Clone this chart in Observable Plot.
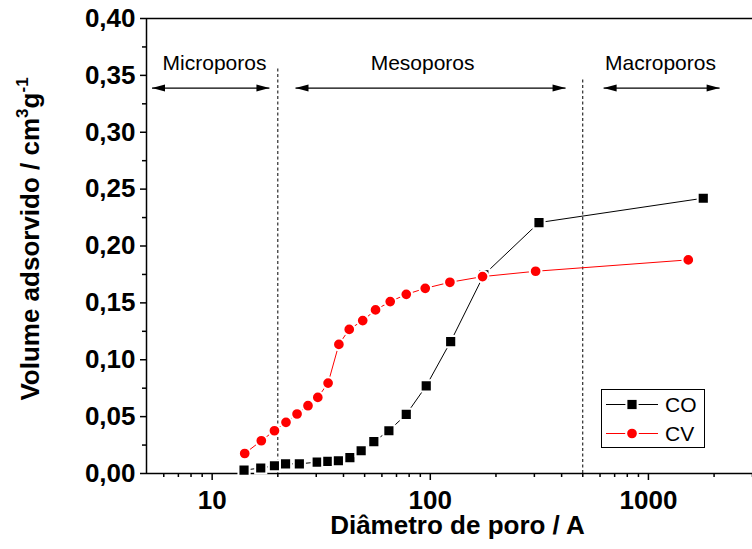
<!DOCTYPE html>
<html>
<head>
<meta charset="utf-8">
<script src="https://cdn.jsdelivr.net/npm/d3@7"></script>
<script src="https://cdn.jsdelivr.net/npm/@observablehq/plot@0.6"></script>
<style>
  body { margin: 0; background: #fff; }
  #wrap { position: relative; width: 752px; height: 549px; font-family: "Liberation Sans", Arial, sans-serif; }
  #legend { position: absolute; left: 601px; top: 389px; width: 102px; height: 57px; border: 1px solid #000; background: #fff; }
</style>
</head>
<body>
<div id="wrap"></div>
<script>
// ---- data ----
const seriesNames = ["CO", "CV"];
const seriesColors = ["#000000", "#ff0000"];

const coX = [14.0, 16.7, 19.3, 21.7, 25.1, 30.3, 33.9, 37.9, 42.8, 48.2, 55.1, 64.6, 77.6, 95.8, 124, 176, 315, 1784];
const coY = [0.003, 0.0048, 0.0068, 0.0085, 0.0085, 0.010, 0.0106, 0.0112, 0.014, 0.020, 0.028, 0.0376, 0.052, 0.077, 0.116, 0.1746, 0.2206, 0.242];

const cvX = [14.1, 16.8, 19.3, 21.8, 24.5, 27.5, 30.5, 34.0, 38.1, 42.5, 49.0, 56.1, 65.5, 77.6, 94.8, 123, 173.6, 304, 1523];
const cvY = [0.0176, 0.0288, 0.0376, 0.0450, 0.0523, 0.0596, 0.0669, 0.0795, 0.1135, 0.1267, 0.1344, 0.1438, 0.1511, 0.1575, 0.1628, 0.1681, 0.1731, 0.1778, 0.1878];

const yTicks = [0, 0.05, 0.10, 0.15, 0.20, 0.25, 0.30, 0.35, 0.40];
const yMinorTicks = [0.025, 0.075, 0.125, 0.175, 0.225, 0.275, 0.325, 0.375];
const xTicks = [10, 100, 1000];
const xMinorTicks = [6, 7, 8, 9, 20, 30, 40, 50, 60, 70, 80, 90, 200, 300, 400, 500, 600, 700, 800, 900, 2000, 3000];

// region annotations
const regionNames = ["Microporos", "Mesoporos", "Macroporos"];
const regionLabelX = [10.25, 92.2, 1136];
const regionFrom = [5.3, 24.1, 623];
const regionTo = [18.3, 417, 2120];
const regionLabelY = 0.361;
const regionArrowY = 0.3388;
const boundaryX = [20, 500];
const boundaryTop = [0.357, 0.348];

const xTitle = "Diâmetro de poro / A";
const yTitle = "Volume adsorvido / cm3g-1";

// ---- build ----
const co = coX.map((x, i) => ({x, y: coY[i]}));
const cv = cvX.map((x, i) => ({x, y: cvY[i]}));
const regions = regionNames.map((name, i) => ({name, lx: regionLabelX[i], from: regionFrom[i], to: regionTo[i]}));
const bounds = boundaryX.map((x, i) => ({x, top: boundaryTop[i]}));

const arrowShape = {
  draw(context, l, r) {
    context.moveTo(0, -l);
    context.lineTo(-r, 0);
    context.lineTo(r, 0);
    context.closePath();
  }
};

const fmt = d => d.toFixed(2).replace(".", ",");

const chart = Plot.plot({
  width: 752,
  height: 549,
  marginLeft: 146,
  marginRight: 0,
  marginTop: 18,
  marginBottom: 76,
  style: {fontFamily: "Liberation Sans, Arial, sans-serif", background: "#fff", color: "#000"},
  x: {type: "log", domain: [5, 3000]},
  y: {domain: [0, 0.4]},
  marks: [
    // frame lines
    Plot.ruleY([0, 0.4], {stroke: "#000", strokeWidth: 1.5}),
    Plot.ruleX([5], {stroke: "#000", strokeWidth: 1.5}),
    // axes
    Plot.axisY(yTicks, {tickSize: 6, tickPadding: 5, tickFormat: fmt, fontSize: 26, fontWeight: "bold", strokeWidth: 1.5, label: null}),
    Plot.axisY(yMinorTicks, {tickSize: 4, tickFormat: () => "", strokeWidth: 1.5, label: null}),
    Plot.axisX(xTicks, {tickSize: 7, tickPadding: 10, tickFormat: d => String(d), fontSize: 26, fontWeight: "bold", strokeWidth: 1.5, label: null}),
    Plot.axisX(xMinorTicks, {tickSize: 4, tickFormat: () => "", strokeWidth: 1.5, label: null}),
    // axis titles
    Plot.text([xTitle], {frameAnchor: "bottom", textAnchor: "middle", lineAnchor: "middle", dx: 8, dy: 52, fontSize: 26, fontWeight: "bold", fill: "#000"}),
    Plot.text([yTitle], {frameAnchor: "left", textAnchor: "middle", lineAnchor: "middle", rotate: -90, dx: -116, dy: -7, fontSize: 26, fontWeight: "bold", fill: "#000"}),
    // region boundaries
    Plot.ruleX(bounds, {x: "x", y1: 0, y2: "top", stroke: "#000", strokeWidth: 1, strokeDasharray: "3,2.5"}),
    // region labels and arrows
    Plot.text(regions, {x: "lx", y: () => regionLabelY, text: "name", fontSize: 21, fontWeight: "normal", fill: "#000"}),
    Plot.link(regions, {x1: "from", x2: "to", y1: () => regionArrowY, y2: () => regionArrowY, stroke: "#000", strokeWidth: 1.3}),
    Plot.vector(regions, {x: "to", y: () => regionArrowY, rotate: 90, length: 13, r: 3.5, anchor: "end", shape: arrowShape, fill: "#000", stroke: "none"}),
    Plot.vector(regions, {x: "from", y: () => regionArrowY, rotate: -90, length: 13, r: 3.5, anchor: "end", shape: arrowShape, fill: "#000", stroke: "none"}),
    // series
    Plot.line(co, {x: "x", y: "y", stroke: seriesColors[0], strokeWidth: 1}),
    Plot.dot(co, {x: "x", y: "y", symbol: "square", r: 6.3, fill: seriesColors[0], stroke: "#fff", strokeWidth: 2}),
    Plot.line(cv, {x: "x", y: "y", stroke: seriesColors[1], strokeWidth: 1}),
    Plot.dot(cv, {x: "x", y: "y", symbol: "circle", r: 5.85, fill: seriesColors[1], stroke: "#fff", strokeWidth: 2})
  ]
});

// superscripts in the y title
d3.select(chart).selectAll("text").filter(function() { return this.textContent === yTitle; }).each(function() {
  const t = d3.select(this);
  t.attr("text-anchor", "middle");
  t.text(null);
  t.append("tspan").text("Volume adsorvido / cm");
  t.append("tspan").attr("dy", -11).attr("font-size", 17).text("3");
  t.append("tspan").attr("dy", 11).text("g");
  t.append("tspan").attr("dy", -11).attr("font-size", 17).text("-1");
});

const wrap = document.getElementById("wrap");
wrap.appendChild(chart);

// legend
const legend = document.createElement("div");
legend.id = "legend";
const lsvg = d3.create("svg").attr("width", 102).attr("height", 57).style("display", "block");
seriesNames.forEach((name, i) => {
  const cy = i === 0 ? 14.5 : 43.5;
  const g = lsvg.append("g");
  g.append("line").attr("x1", 4).attr("x2", 56).attr("y1", cy).attr("y2", cy).attr("stroke", seriesColors[i]).attr("stroke-width", 1);
  if (i === 0) {
    g.append("rect").attr("x", 30 - 5.6).attr("y", cy - 5.6).attr("width", 11.2).attr("height", 11.2).attr("fill", seriesColors[i]).attr("stroke", "#fff").attr("stroke-width", 2);
  } else {
    g.append("circle").attr("cx", 30).attr("cy", cy).attr("r", 5.85).attr("fill", seriesColors[i]).attr("stroke", "#fff").attr("stroke-width", 2);
  }
  g.append("text").attr("x", 63).attr("y", cy).attr("dy", "0.36em").attr("font-size", 21).attr("font-family", "Liberation Sans, Arial, sans-serif").attr("fill", "#000").text(name);
});
legend.appendChild(lsvg.node());
wrap.appendChild(legend);
</script>
</body>
</html>
